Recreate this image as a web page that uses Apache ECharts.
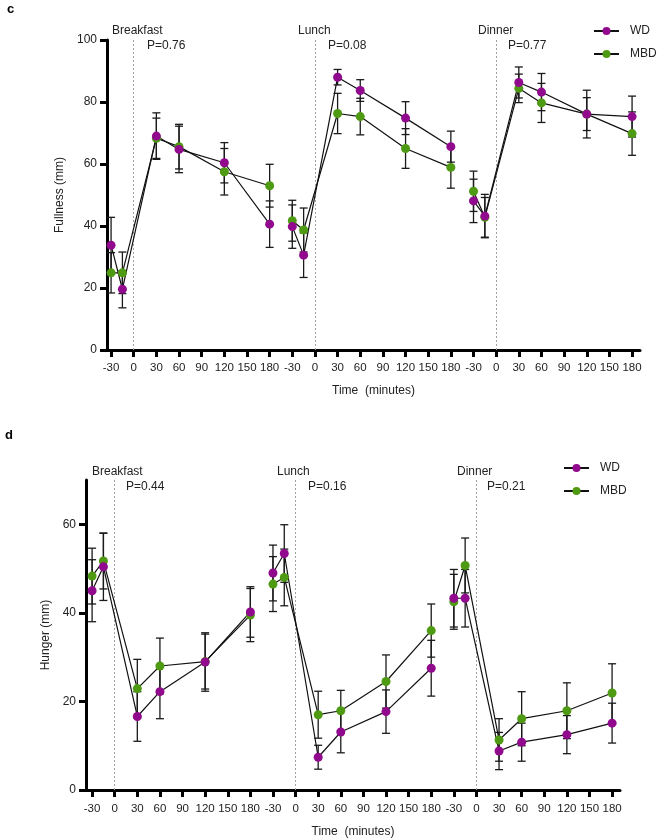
<!DOCTYPE html>
<html>
<head>
<meta charset="utf-8">
<script src="https://cdn.jsdelivr.net/npm/echarts@6/dist/echarts.min.js"></script>
<style>
  html, body { margin: 0; padding: 0; background: #fff; }
  #container { width: 658px; height: 839px; }
</style>
</head>
<body>
<div id="container"></div>
<script>
// time points (minutes relative to meal) and meals
var meals = ['Breakfast', 'Lunch', 'Dinner'];
var times = [-30, -15, 30, 60, 120, 180];
var tickLabels = ['-30', '0', '30', '60', '90', '120', '150', '180'];
var pFull = ['P=0.76', 'P=0.08', 'P=0.77'];
var pHunger = ['P=0.44', 'P=0.16', 'P=0.21'];

// panel c - fullness (mm), mean and SEM, breakfast / lunch / dinner
var fullWD     = [33.8, 19.6, 69.0, 64.7, 60.4, 40.6,  39.8, 30.6, 88.0, 83.7, 74.8, 65.6,  48.1, 43.2, 86.3, 83.2, 76.1, 75.3];
var fullWDsem  = [9.0, 6.0, 7.5, 7.5, 6.5, 7.5,  7.0, 7.2, 2.5, 3.5, 5.3, 5.0,  7.0, 7.0, 5.0, 6.0, 7.7, 6.6];
var fullMBD    = [24.9, 24.9, 68.3, 65.6, 57.5, 53.0,  41.7, 38.7, 76.3, 75.3, 65.0, 58.9,  51.2, 42.8, 84.4, 79.7, 76.1, 69.8];
var fullMBDsem = [6.5, 6.7, 6.5, 7.2, 7.5, 6.9,  6.6, 7.1, 6.5, 5.9, 6.4, 6.7,  6.5, 6.4, 4.6, 6.3, 5.3, 7.0];

// panel d - hunger (mm)
var hungWD     = [45.0, 50.4, 16.6, 22.2, 28.9, 40.2,  49.0, 53.4, 7.4, 13.1, 17.7, 27.5,  43.3, 43.3, 8.8, 10.8, 12.5, 15.1];
var hungWDsem  = [7.0, 7.6, 5.6, 6.1, 6.6, 5.7,  6.3, 6.5, 2.7, 4.7, 4.9, 6.3,  6.5, 6.5, 4.2, 4.3, 4.3, 4.5];
var hungMBD    = [48.3, 51.7, 22.9, 28.0, 29.0, 39.5,  46.5, 48.0, 17.0, 17.9, 24.5, 36.0,  42.5, 50.7, 11.3, 16.1, 17.9, 21.9];
var hungMBDsem = [6.3, 6.3, 6.6, 6.3, 6.2, 6.0,  6.2, 6.4, 5.3, 4.6, 6.0, 6.0,  6.2, 6.2, 4.8, 6.1, 6.3, 6.6];

var PURPLE = '#910a8e';
var GREEN = '#4e9a12';
var FONT = 'Arial, "Liberation Sans", Helvetica, sans-serif';

// position on the joined time axis: 8 ticks per meal (-30 .. 180)
function xOf(m, t) { return m * 8 + (t + 30) / 30; }

function lineData(vals) {
    var out = [];
    for (var m = 0; m < meals.length; m++) {
        for (var i = 0; i < times.length; i++) {
            out.push([xOf(m, times[i]), vals[m * times.length + i]]);
        }
        out.push([m * 8 + 7.5, '-']);
    }
    return out;
}
function errData(vals, sem) {
    var out = [];
    for (var m = 0; m < meals.length; m++) {
        for (var i = 0; i < times.length; i++) {
            var k = m * times.length + i;
            out.push([xOf(m, times[i]), vals[k] - sem[k], vals[k] + sem[k]]);
        }
    }
    return out;
}

function renderErr(params, api) {
    var x = api.value(0);
    var lo = api.coord([x, api.value(1)]);
    var hi = api.coord([x, api.value(2)]);
    var w = 4;
    var st = { stroke: '#1a1a1a', lineWidth: 1.3 };
    return {
        type: 'group',
        children: [
            { type: 'line', shape: { x1: lo[0], y1: lo[1], x2: hi[0], y2: hi[1] }, style: st },
            { type: 'line', shape: { x1: lo[0] - w, y1: lo[1], x2: lo[0] + w, y2: lo[1] }, style: st },
            { type: 'line', shape: { x1: hi[0] - w, y1: hi[1], x2: hi[0] + w, y2: hi[1] }, style: st }
        ]
    };
}

var tickIdx = [];
for (var i = 0; i < 24; i++) tickIdx.push(i);

function xAxisCfg(gi, min, name, lblMargin, gap) {
    return {
        type: 'value', gridIndex: gi, min: min, max: 23.35,
        name: name, nameLocation: 'middle', nameGap: gap,
        nameTextStyle: { fontFamily: FONT, fontSize: 12, color: '#222' },
        axisLine: { onZero: false, lineStyle: { color: '#000', width: 3 } },
        axisTick: { customValues: tickIdx, length: 7, lineStyle: { color: '#000', width: 3 } },
        axisLabel: {
            customValues: tickIdx, margin: lblMargin, fontFamily: FONT, fontSize: 11.5, color: '#222',
            formatter: function (v) { return tickLabels[Math.round(v) % 8]; }
        },
        splitLine: { show: false }
    };
}
function yAxisCfg(gi, max, ticks, name, gap) {
    return {
        type: 'value', gridIndex: gi, min: 0, max: max,
        name: name, nameLocation: 'middle', nameGap: gap,
        nameTextStyle: { fontFamily: FONT, fontSize: 12, color: '#222' },
        axisLine: { show: true, onZero: false, lineStyle: { color: '#000', width: 3 } },
        axisTick: { show: true, customValues: ticks, length: 7, lineStyle: { color: '#000', width: 3 } },
        axisLabel: { customValues: ticks, margin: 10, fontFamily: FONT, fontSize: 12, color: '#222' },
        splitLine: { show: false }
    };
}

function meanLine(name, gi, vals, color, withMark) {
    var s = {
        name: name, type: 'line', xAxisIndex: gi, yAxisIndex: gi,
        data: lineData(vals), connectNulls: false,
        symbol: 'circle', symbolSize: 9, z: 5,
        itemStyle: { color: color },
        lineStyle: { color: '#111', width: 1.2 },
        animation: false
    };
    if (withMark) {
        s.markLine = {
            silent: true, symbol: 'none', label: { show: false },
            lineStyle: { color: '#a0a0a0', width: 1, type: [2, 2] },
            data: [{ xAxis: 1 }, { xAxis: 9 }, { xAxis: 17 }]
        };
    }
    return s;
}
function errSeries(gi, vals, sem) {
    return {
        type: 'custom', xAxisIndex: gi, yAxisIndex: gi, z: 3,
        renderItem: renderErr, encode: { x: 0, y: [1, 2] },
        data: errData(vals, sem), animation: false, silent: true
    };
}

function texts(labels, ps, y0, xs, pxs) {
    var g = [];
    for (var m = 0; m < 3; m++) {
        g.push({ type: 'text', left: xs[m], top: y0, style: { text: labels[m], fontFamily: FONT, fontSize: 12, fill: '#222' } });
        g.push({ type: 'text', left: pxs[m], top: y0 + 15, style: { text: ps[m], fontFamily: FONT, fontSize: 12, fill: '#222' } });
    }
    return g;
}

var graphics = [
    { type: 'text', left: 7, top: 3, style: { text: 'c', fontFamily: FONT, fontSize: 13, fontWeight: 'bold', fill: '#000' } },
    { type: 'text', left: 5, top: 429, style: { text: 'd', fontFamily: FONT, fontSize: 13, fontWeight: 'bold', fill: '#000' } }
].concat(texts(meals, pFull, 25, [112, 298, 478], [147, 328, 508]))
 .concat(texts(meals, pHunger, 466, [92, 277, 457], [126, 308, 487]));

var legendText = { fontFamily: FONT, fontSize: 12, color: '#222', padding: [0, 0, 0, 6] };

var myChart = echarts.init(document.getElementById('container'));
var option = {
    backgroundColor: '#fff',
    textStyle: { fontFamily: FONT },
    grid: [
        { left: 107, top: 40, width: 533, height: 310 },
        { left: 86, top: 480, width: 534, height: 312 }
    ],
    legend: [
        { data: ['WD', 'MBD'], orient: 'vertical', left: 593, top: 25, padding: 0, itemWidth: 25, itemHeight: 10, itemGap: 11,
          textStyle: legendText },
        { data: ['WD', 'MBD'], orient: 'vertical', left: 563, top: 462, padding: 0, itemWidth: 25, itemHeight: 10, itemGap: 11,
          textStyle: legendText }
    ],
    xAxis: [xAxisCfg(0, -0.18, 'Time  (minutes)', 12, 35), xAxisCfg(1, -0.27, 'Time  (minutes)', 13, 36)],
    yAxis: [yAxisCfg(0, 100, [0, 20, 40, 60, 80, 100], 'Fullness (mm)', 30),
            yAxisCfg(1, 70, [0, 20, 40, 60], 'Hunger (mm)', 29)],
    graphic: graphics,
    series: [
        errSeries(0, fullMBD, fullMBDsem),
        errSeries(0, fullWD, fullWDsem),
        meanLine('MBD', 0, fullMBD, GREEN, true),
        meanLine('WD', 0, fullWD, PURPLE, false),
        errSeries(1, hungMBD, hungMBDsem),
        errSeries(1, hungWD, hungWDsem),
        meanLine('MBD', 1, hungMBD, GREEN, true),
        meanLine('WD', 1, hungWD, PURPLE, false)
    ]
};
myChart.setOption(option);
</script>
</body>
</html>
